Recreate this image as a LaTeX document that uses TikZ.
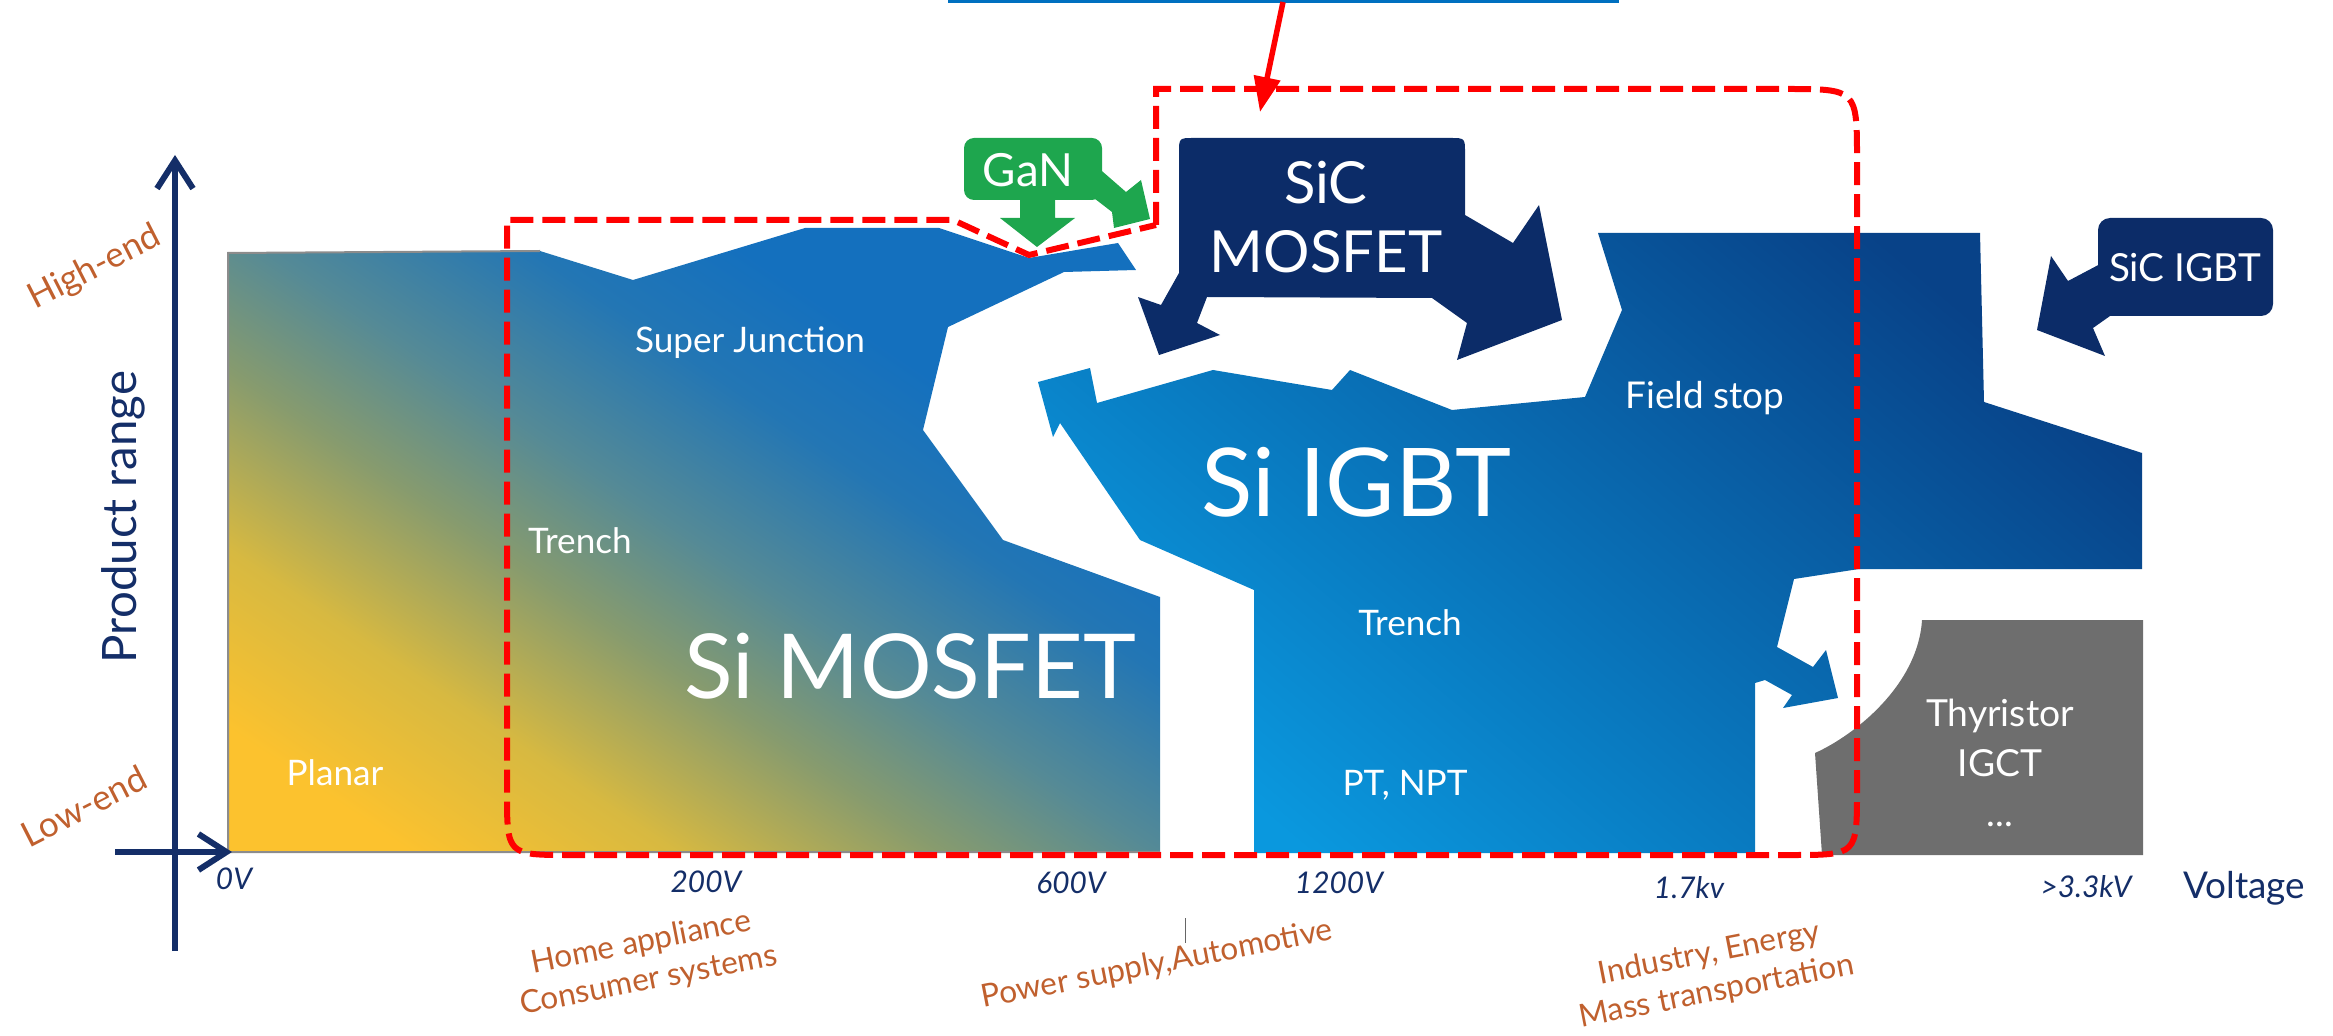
\documentclass[tikz,border=0pt]{standalone}
\usepackage{fontspec}
\setmainfont{Lato}
\usetikzlibrary{arrows.meta}

\definecolor{axisblue}{RGB}{20,46,104}
\definecolor{marketorange}{RGB}{192,96,46}
\definecolor{sicnavy}{RGB}{12,44,104}
\definecolor{gangreen}{RGB}{30,166,78}
\definecolor{thygray}{RGB}{110,110,110}
\definecolor{igbtlight}{RGB}{10,152,222}
\definecolor{igbtdark}{RGB}{8,66,136}
\definecolor{mosY}{RGB}{252,194,46}
\definecolor{mosO}{RGB}{215,185,65}
\definecolor{mosG}{RGB}{135,155,110}
\definecolor{mosT}{RGB}{85,138,150}
\definecolor{mosC}{RGB}{35,118,180}
\definecolor{mosB}{RGB}{20,112,190}
\definecolor{calloutblue}{RGB}{0,112,192}

\pgfdeclareverticalshading{mosfade}{100bp}{color(0bp)=(mosY); color(22bp)=(mosY); color(32bp)=(mosO); color(42bp)=(mosG); color(50bp)=(mosT); color(60bp)=(mosC); color(68bp)=(mosB); color(100bp)=(mosB)}

\begin{document}
\begin{tikzpicture}[x=0.1mm,y=-0.1mm,
    inlabel/.style={text=white,font=\fontsize{10}{12}\selectfont,inner sep=0pt},
    bigname/.style={text=white,font=\fontsize{27}{32}\selectfont,inner sep=0pt},
    volt/.style={text=axisblue,font=\fontsize{8.5}{10}\selectfont\itshape,inner sep=0pt},
    market/.style={text=marketorange,font=\fontsize{9}{11}\selectfont,align=center,rotate=11,inner sep=0pt},
    endlabel/.style={text=marketorange,font=\fontsize{10}{12}\selectfont,rotate=27,inner sep=0pt},
    reddash/.style={red,line width=0.6mm,dash pattern=on 2.3mm off 0.9mm},
    axisline/.style={axisblue,line width=0.6mm,-{Straight Barb[length=2.8mm,width=3.6mm]}}]
  \useasboundingbox (0,0) rectangle (2333,1036);

  % Si MOSFET area
  \shade[shading=mosfade,shading angle=-34] (228,852) -- (228,253) -- (540,251) -- (633,280) -- (805,228) -- (939,228) -- (1029,258) -- (1118,243) -- (1136,270) -- (1064,272) -- (948,327) -- (923,430) -- (1003,540) -- (1160,597) -- (1160,852) -- cycle;
  \draw[black!45,line width=0.2mm] (540,251) -- (228,253) -- (228,852) -- (1160,852);

  % Si IGBT area
  \shade[bottom color=igbtlight,top color=igbtdark,shading angle=-40] (1254,853) -- (1254,590) -- (1140,540) -- (1060,423) -- (1053,437) -- (1038,382) -- (1090,368) -- (1097,403) -- (1213,370) -- (1332,390) -- (1350,370) -- (1452,410) -- (1585,397) -- (1622,310) -- (1598,233) -- (1980,233) -- (1984,402) -- (2142,453) -- (2142,569) -- (1859,569) -- (1794,579) -- (1777,647) -- (1813,667) -- (1826,650) -- (1838,698) -- (1783,708) -- (1792,695) -- (1765,680) -- (1755,683) -- (1755,853) -- cycle;

  % SiC MOSFET
  \fill[sicnavy] (1179,273) -- (1179,153) .. controls (1179,138) .. (1194,138) -- (1450,138) .. controls (1465,138) .. (1465,153) -- (1465,215) -- (1513,243) -- (1539,205) -- (1562,320) -- (1457,360) -- (1467,323) -- (1432,298) -- (1207,297) -- (1197,323) -- (1220,335) -- (1159,355) -- (1138,297) -- (1161,305) -- cycle;

  % GaN
  \fill[gangreen,rounded corners=1mm] (964,138) rectangle (1102,200);
  \fill[gangreen] (1020,195) -- (1055,195) -- (1055,218) -- (1075,218) -- (1037,247) -- (1000,218) -- (1020,218) -- cycle;
  \fill[gangreen] (1095,165) -- (1126,192) -- (1141,180) -- (1150,219) -- (1114,228) -- (1112,212) -- (1090,195) -- cycle;

  % SiC IGBT
  \fill[sicnavy,rounded corners=1.2mm] (2098,218) rectangle (2273,316);
  \fill[sicnavy] (2104,262) -- (2068,281) -- (2051,256) -- (2037,330) -- (2105,356) -- (2093,328) -- (2110,316) -- cycle;

  % Thyristor
  \fill[thygray] (1922,620) -- (2143,620) -- (2143,855) -- (1822,855) -- (1815,753) .. controls (1855,735) and (1918,685) .. (1922,620) -- cycle;

  % axes
  \coordinate (yfoot) at (175,951);
  \coordinate (ytop) at (175,155);
  \coordinate (xfoot) at (115,852);
  \coordinate (xtip) at (232,852);
  \draw[axisline] (yfoot) -- (ytop);
  \draw[axisline] (xfoot) -- (xtip);
  \draw[black!60,line width=0.1mm] (1185,918) -- (1185,943);

  % texts inside
  \node[inlabel] (planar) at (335,773) {Planar};
  \node[inlabel] (mostrench) at (580,541) {Trench};
  \node[inlabel] (superj) at (750,343) {Super Junction};
  \node[bigname,font=\fontsize{25.5}{30}\selectfont] (simos) at (910,666) {Si MOSFET};
  \node[bigname] (siigbt) at (1356,482) {Si IGBT};
  \node[inlabel] (igbttrench) at (1410,623) {Trench};
  \node[inlabel] (ptnpt) at (1405,785) {PT, NPT};
  \node[inlabel,font=\fontsize{10.5}{12}\selectfont] (fieldstop) at (1705,398) {Field stop};
  \node[text=white,font=\fontsize{16.5}{19.6}\selectfont,align=center,inner sep=0pt] (sicmos) at (1326,217) {SiC\\MOSFET};
  \node[text=white,font=\fontsize{13}{15}\selectfont,inner sep=0pt] (gan) at (1028,170) {GaN};
  \node[text=white,font=\fontsize{11}{13}\selectfont,inner sep=0pt] (sicigbt) at (2185,268) {SiC IGBT};
  \node[inlabel,align=center,font=\fontsize{10.6}{14.2}\selectfont] (thyr) at (2000,763) {Thyristor\\IGCT\\...};

  % axis texts
  \node[endlabel] (highend) at (95,268) {High-end};
  \node[endlabel] (lowend) at (84,806) {Low-end};
  \node[text=axisblue,font=\fontsize{13.5}{16}\selectfont,rotate=90,inner sep=0pt] (prange) at (123,517) {Product range};
  \node[volt] (v0) at (234,879) {0V};
  \node[volt] (v200) at (706,882) {200V};
  \node[volt] (v600) at (1071,883) {600V};
  \node[volt] (v1200) at (1339,883) {1200V};
  \node[volt] (v1700) at (1689,888) {1.7kv};
  \node[volt] (v3300) at (2086,887) {>3.3kV};
  \node[text=axisblue,font=\fontsize{10.5}{12}\selectfont,inner sep=0pt] (vaxis) at (2244,888) {Voltage};
  \node[market] (home) at (645,962) {Home appliance\\Consumer systems};
  \node[market] (power) at (1157,965) {Power supply,Automotive};
  \node[market] (industry) at (1713,973) {Industry, Energy\\Mass transportation};

  % dashed frame
  \draw[reddash] (1156,225) -- (1156,89) -- (1786,89) .. controls (1857,89) .. (1857,160) -- (1857,790) .. controls (1857,855) .. (1792,855) -- (570,855) .. controls (507,855) .. (507,792) -- (507,220) -- (953,220) -- (1029,255) -- cycle;

  % callout
  \draw[calloutblue,line width=0.3mm] (948,1.5) -- (1619,1.5);
  \coordinate (callout) at (1283,2);
  \coordinate (target) at (1260,112);
  \draw[red,line width=0.55mm,-{Triangle[length=3.5mm,width=2.6mm]}] (callout) -- (target);
\end{tikzpicture}
\end{document}
